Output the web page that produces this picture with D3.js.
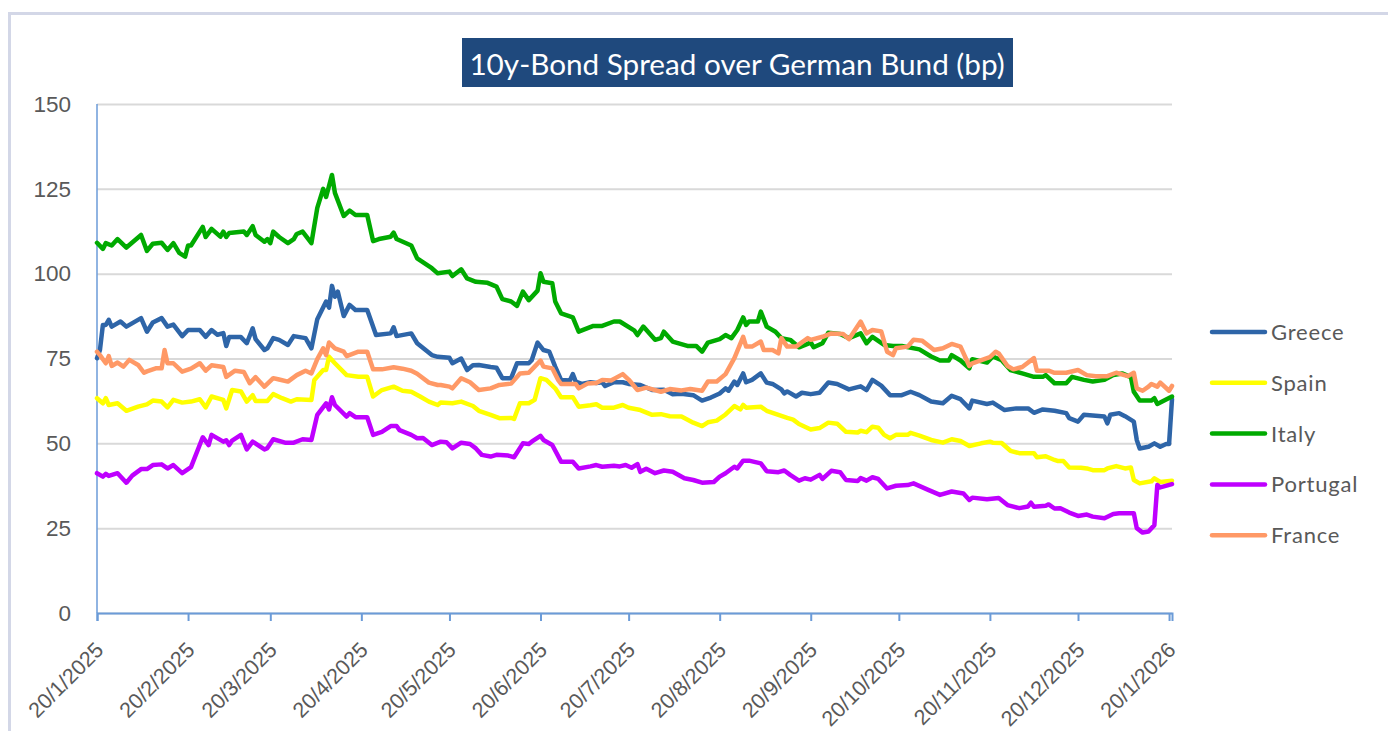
<!DOCTYPE html>
<html>
<head>
<meta charset="utf-8">
<script src="https://cdn.jsdelivr.net/npm/d3@7"></script>
<style>
  body { margin: 0; background: #fff; }
  svg { display: block; font-family: Lato, "Open Sans", sans-serif; }
</style>
</head>
<body>
<svg id="chart" width="1388" height="731"></svg>
<script>
// data: [days since 20/1/2025, spread in bp]
const startDate = new Date(2025, 0, 20);
const endDate = new Date(2026, 0, 21);
const tickLabels = ["20/1/2025", "20/2/2025", "20/3/2025", "20/4/2025", "20/5/2025", "20/6/2025", "20/7/2025",
    "20/8/2025", "20/9/2025", "20/10/2025", "20/11/2025", "20/12/2025", "20/1/2026"];
const yTicks = [0, 25, 50, 75, 100, 125, 150];
const seriesNames = ["Greece", "Spain", "Italy", "Portugal", "France"];
const seriesColors = ["#2e65a8", "#ffff00", "#00aa00", "#bf00ff", "#ff9966"];

const greece = [[0,75.1],[1,77.5],[2,84.9],[3,84.9],[4,86.4],[5,84.4],[8,85.9],[10,84.4],[15,86.9],[17,82.9],[19,85.6],[22,86.9],[24,84.4],[26,85],[29,81.6],[31,83.4],[35,83.4],[37,81.4],[39,83.4],[41,82],[43,82.5],[44,78.7],[45,81.3],[49,81.3],[51,79.5],[53,83.9],[54,80.7],[57,77.5],[58,78],[60,81],[62,80.5],[65,79],[67,81.6],[71,81],[73,78],[75,86.6],[78,91.8],[79,90],[80,96.4],[81,93.2],[82,94.7],[84,87.5],[86,90.8],[88,89.3],[92,89.3],[95,81.9],[100,82.4],[101,84.2],[102,81.6],[107,82.4],[109,79.5],[114,76],[116,75.5],[120,75.2],[121,73.6],[124,75],[126,71.6],[128,73],[130,73.1],[134,72.5],[136,72.3],[138,69.2],[141,69.2],[143,73.6],[147,73.6],[148,74.5],[150,79.7],[152,77.5],[154,77],[156,72.6],[158,68.7],[161,68.5],[162,70.4],[163,68.2],[165,67.5],[168,68],[170,67.8],[172,68],[173,66.9],[176,68],[179,68],[181,67.5],[185,67.2],[189,65.7],[193,65.8],[196,64.5],[199,64.6],[203,64.2],[206,62.6],[209,63.5],[212,64.7],[214,66.2],[215,65.5],[217,68.2],[218,67.2],[220,70.6],[221,68],[223,68.7],[226,70.6],[228,67.9],[230,67.5],[233,65.9],[234,64.7],[235,65.3],[238,63.8],[240,64.9],[243,64.5],[246,64.9],[249,67.9],[252,67.5],[256,65.9],[260,66.8],[262,65.7],[264,68.7],[267,67],[270,64.2],[274,64.2],[277,65.2],[280,64.2],[284,62.3],[288,61.8],[291,64],[294,63],[297,60.3],[298,62.6],[303,61.6],[305,62],[309,59.8],[313,60.3],[317,60.3],[319,59],[322,60],[326,59.6],[330,58.9],[331,57.4],[334,56.4],[336,58.4],[339,58.2],[343,57.9],[344,55.9],[345,58.4],[348,58.9],[350,58],[353,56.4],[354,51],[355,48.5],[358,49],[360,50],[362,49],[364,49.8],[365,49.8],[366,63]];

const spain = [[0,63.3],[2,61.8],[3,63.3],[4,61.3],[7,61.8],[10,59.6],[14,60.8],[17,61.5],[19,62.6],[22,62.3],[24,60.6],[26,62.8],[29,62],[32,62.3],[35,63],[37,60.6],[39,63.8],[43,62.8],[44,60.3],[46,65.7],[49,65.3],[51,62.3],[53,64.2],[54,62.5],[58,62.5],[60,64.5],[63,63.3],[66,62.3],[68,63],[73,62.8],[74,68.7],[77,71.6],[78,71.6],[79,75.5],[81,73.6],[85,70.1],[89,69.6],[92,69.6],[94,63.8],[97,65.7],[101,66.7],[104,65.5],[107,65.2],[110,63.8],[113,62.3],[116,61.3],[117,62],[121,61.8],[124,62.3],[128,61],[130,59.6],[134,58.4],[137,57.4],[141,57.5],[142,57.2],[144,61.8],[147,61.8],[149,62.8],[151,69.2],[153,68.7],[156,66.2],[158,63.6],[162,63.6],[164,60.8],[168,61.2],[170,61.5],[172,60.5],[176,60.5],[179,61.3],[181,60.5],[185,59.8],[189,58.4],[192,58.6],[195,58],[199,57.9],[203,56.1],[206,55.1],[208,56.2],[211,56.7],[214,58.5],[217,61],[219,60],[220,61.3],[221,60.5],[226,60.8],[228,59.6],[232,58.4],[235,57.5],[237,57],[239,55.7],[241,54.9],[243,54.1],[246,54.5],[249,56.1],[252,55.8],[255,53.4],[259,53.2],[260,53.7],[262,53.3],[264,54.9],[266,54.6],[268,52.5],[270,51.5],[272,52.5],[276,52.5],[277,53.1],[280,52.3],[284,51],[288,50.2],[291,51.2],[294,50.7],[297,49.2],[301,50],[304,50.5],[305,50.2],[308,50.1],[311,47.8],[314,47.1],[319,47.1],[320,45.9],[323,46.2],[326,45.1],[327,44.8],[329,44.8],[331,42.9],[335,42.8],[337,42.6],[339,42.1],[343,42.1],[344,42.6],[347,43.3],[350,42.6],[352,42.9],[353,39.2],[355,38.2],[359,38.8],[360,39.7],[362,38.6],[366,39]];

const italy = [[0,109.1],[2,107.3],[3,109],[5,108.3],[7,110.2],[10,107.7],[15,111.4],[17,106.7],[19,108.8],[22,109.1],[24,107],[26,109],[28,106.1],[30,105],[31,108.3],[32,108.3],[36,113.8],[37,110.8],[39,113.2],[42,110.9],[43,112.4],[44,110.8],[45,112],[50,112.4],[51,111.4],[53,114],[54,111.4],[57,109.4],[58,110.2],[59,109],[60,112.4],[62,110.8],[65,109],[67,110.2],[68,111.7],[70,112.4],[73,109],[75,119.4],[77,125],[78,122.6],[80,129.1],[81,123.8],[84,117],[86,118.6],[88,117.3],[92,117.3],[94,109.6],[96,110.2],[100,110.9],[101,112.1],[102,110.2],[107,108.3],[109,104.5],[114,101.6],[116,100.1],[120,100.6],[121,99.3],[124,101.3],[126,98.6],[129,97.6],[133,97.3],[136,96.2],[138,92.5],[141,91.8],[143,90.5],[145,94.7],[147,92.2],[150,95],[151,100.1],[152,97.6],[155,97.2],[156,91.8],[158,88.3],[162,87.1],[164,82.9],[169,84.6],[172,84.6],[176,85.9],[178,85.9],[183,83.2],[184,81.9],[186,84.4],[190,80.5],[192,81],[193,82.9],[196,80],[201,78.7],[204,78.7],[206,77],[208,79.7],[212,80.7],[214,81.9],[216,81],[218,83.4],[220,87.1],[221,84.9],[222,85.9],[225,85.9],[226,88.8],[228,84.4],[231,82.9],[233,81],[236,80.5],[239,78.3],[243,79.7],[244,78.3],[247,79.5],[249,82.6],[253,82.2],[256,81],[260,82.4],[262,79.5],[264,81.4],[268,79],[271,78.7],[274,78.7],[280,77.7],[284,75.6],[287,74.4],[290,74.4],[291,76],[294,74.4],[297,72.1],[298,74.8],[303,73.8],[305,75.6],[308,74.5],[311,71.6],[315,70.6],[319,69.6],[322,69.6],[323,70.1],[326,67.7],[330,67.7],[332,69.6],[336,68.7],[339,68.2],[343,68.7],[346,70.1],[349,70.6],[352,69.5],[353,65.2],[355,62.6],[359,62.6],[360,63.3],[361,61.6],[366,63.8]];

const portugal = [[0,41.2],[2,40.2],[3,41],[4,40.4],[7,41.2],[10,38.4],[12,40.5],[15,42.4],[17,42.4],[19,43.6],[22,43.8],[24,42.6],[26,43.6],[29,41.2],[32,43],[36,51.8],[38,49.5],[39,52.5],[43,50.5],[44,50.9],[45,49.5],[46,50.8],[49,52.5],[51,48.2],[53,50.5],[57,48.2],[58,48.6],[60,51.2],[64,50.2],[67,50.2],[70,51.2],[73,51],[75,58.4],[78,61.8],[79,60],[80,63.6],[81,61.3],[85,57.9],[86,58.9],[88,57.7],[92,57.7],[94,52.5],[97,53.4],[100,55.1],[102,55.1],[103,53.9],[107,52.5],[109,51.5],[111,51.6],[114,49.5],[117,50.5],[119,50.3],[121,48.5],[124,50.2],[127,49.8],[129,48.5],[131,46.6],[134,46.1],[136,46.6],[140,46.4],[142,45.9],[145,50],[147,49.8],[148,50.5],[151,52.2],[152,51],[155,49.5],[158,44.6],[162,44.6],[164,42.6],[168,43.2],[170,43.6],[172,43.1],[176,43.4],[178,43.2],[180,43.6],[182,42.8],[184,43.9],[185,41.6],[187,42.5],[190,41.2],[193,42],[196,41.6],[200,39.7],[203,39.2],[206,38.4],[210,38.6],[212,40.2],[214,41.2],[217,43.1],[218,42.6],[220,44.9],[222,44.9],[226,44.1],[228,41.8],[232,41.5],[234,42],[236,40.7],[239,39],[241,39.7],[243,39.3],[246,40.7],[247,39.5],[250,41.9],[253,41.5],[255,39.2],[259,38.9],[260,39.8],[262,39],[264,40],[266,39.5],[269,36.7],[272,37.5],[276,37.7],[278,38.2],[283,36.3],[287,34.8],[291,35.8],[295,35.2],[297,33.3],[298,34],[303,33.5],[307,33.9],[310,31.8],[314,30.9],[317,31.4],[318,32.5],[319,31.3],[323,31.6],[324,32],[326,30.8],[328,30.9],[331,29.6],[334,28.6],[337,29],[339,28.4],[343,27.9],[346,29.2],[348,29.4],[353,29.4],[354,25],[356,23.7],[358,24],[360,25.9],[361,37.7],[362,37],[366,38]];

const france = [[0,77],[1,76],[3,73.6],[4,75.7],[5,72.8],[7,73.8],[9,72.6],[11,74.6],[14,73.1],[16,70.8],[17,71.2],[20,72.1],[22,72.1],[23,77.5],[24,73.6],[26,73.6],[29,71.1],[32,72],[35,73.6],[37,71.4],[39,73],[43,72.5],[44,69.6],[47,71.4],[50,71],[52,67.7],[54,69.5],[57,66.7],[60,69.2],[62,68.8],[65,68.2],[68,70.1],[71,71.4],[73,70.6],[75,74.8],[77,78],[78,76],[79,79.7],[81,78],[84,77],[85,75.7],[89,77],[92,77],[94,71.8],[97,71.8],[101,72.4],[104,72],[107,71.4],[109,70.5],[113,67.9],[116,67.2],[117,67.2],[120,66.7],[121,66.2],[124,69.2],[127,68],[130,65.7],[134,66.2],[137,67.2],[141,67.6],[144,70.6],[147,70.8],[149,72.6],[151,74.4],[152,72.6],[155,72.1],[157,68.7],[158,67.5],[163,67.5],[164,66.2],[167,67.6],[170,67.8],[172,68.7],[175,68.5],[176,69],[179,70.4],[181,68.8],[184,65.7],[187,66.4],[192,65.2],[195,66],[199,65.6],[202,66],[206,65.5],[208,68.2],[211,68.2],[214,70.4],[217,75.1],[220,81.4],[221,78.5],[223,78.5],[226,80],[227,77.5],[230,77.5],[232,76.5],[233,81],[235,78.5],[238,78.5],[242,81],[243,80.5],[247,81.4],[250,82.4],[254,82.2],[256,80.7],[260,85.9],[262,82.4],[264,83.4],[267,83],[269,77],[271,76],[272,78],[276,78.5],[278,80.5],[281,80.2],[285,77.5],[288,78],[291,79.3],[294,78.5],[297,72.8],[298,73.6],[304,75.4],[306,77],[307,76.5],[310,72.8],[312,71.8],[315,72.5],[319,75.1],[320,71.4],[324,71.4],[326,70.8],[330,70.8],[334,71.6],[337,70.1],[340,69.8],[344,69.8],[347,70.8],[351,69.8],[353,70.8],[354,66.2],[356,65.5],[358,66.7],[359,67.5],[361,66.7],[362,67.9],[365,65.5],[366,66.9]];

const seriesData = [greece, spain, italy, portugal, france];

const svg = d3.select("#chart");
const textColor = "#595959";
const axisBlue = "#6b9bd8";
const plot = { left: 97, right: 1172, top: 104, bottom: 613 };

// outer frame of the chart object
svg.append("path")
    .attr("d", `M9.5,731 V13.5 H1388`)
    .attr("fill", "none")
    .attr("stroke", "#d3d7e7")
    .attr("stroke-width", 3);

const x = d3.scaleTime().domain([startDate, endDate]).range([plot.left, plot.right]);
const y = d3.scaleLinear().domain([0, 150]).range([plot.bottom, plot.top]);

// gridlines + y labels
const yAxis = svg.append("g")
    .attr("transform", `translate(${plot.left},0)`)
    .call(d3.axisLeft(y).tickValues(yTicks).tickSize(-(plot.right - plot.left)).tickPadding(26));
yAxis.select(".domain").remove();
yAxis.selectAll("line").attr("stroke", "#d9d9d9").attr("stroke-width", 2);
yAxis.selectAll("text")
    .attr("fill", textColor)
    .style("font-size", "22.5px");

// vertical axis line
svg.append("line")
    .attr("x1", plot.left).attr("x2", plot.left)
    .attr("y1", plot.top).attr("y2", plot.bottom)
    .attr("stroke", axisBlue).attr("stroke-width", 1.5);

// x axis
const parseTick = d3.timeParse("%d/%m/%Y");
const tickDates = tickLabels.map(parseTick);
const xAxis = svg.append("g")
    .attr("transform", `translate(0,${plot.bottom})`)
    .call(d3.axisBottom(x).tickValues(tickDates).tickFormat((d, i) => tickLabels[i]).tickSize(8));
xAxis.select(".domain").attr("stroke", axisBlue).attr("stroke-width", 2);
xAxis.selectAll("line").attr("stroke", axisBlue).attr("stroke-width", 2);
xAxis.selectAll("text")
    .attr("fill", textColor)
    .style("font-size", "21.5px")
    .attr("text-anchor", "end")
    .attr("x", 0).attr("y", 0).attr("dy", "0.35em")
    .attr("transform", "translate(2,33) rotate(-45)");

// the lines
const line = d3.line()
    .x(d => x(d3.timeDay.offset(startDate, d[0])))
    .y(d => y(d[1]));

seriesData.forEach((data, i) => {
    svg.append("path")
        .datum(data)
        .attr("d", line)
        .attr("fill", "none")
        .attr("stroke", seriesColors[i])
        .attr("stroke-width", 4.5)
        .attr("stroke-linejoin", "round")
        .attr("stroke-linecap", "round");
});

// legend
const legend = svg.append("g");
seriesNames.forEach((name, i) => {
    const ly = 332 + i * 50.8;
    legend.append("line")
        .attr("x1", 1212).attr("x2", 1265)
        .attr("y1", ly).attr("y2", ly)
        .attr("stroke", seriesColors[i])
        .attr("stroke-width", 4.5)
        .attr("stroke-linecap", "round");
    legend.append("text")
        .attr("x", 1271).attr("y", ly)
        .attr("dy", "0.36em")
        .attr("fill", textColor)
        .style("font-size", "22px")
        .style("letter-spacing", "0.8px")
        .text(name);
});

// title box
svg.append("rect")
    .attr("x", 462).attr("y", 38)
    .attr("width", 551).attr("height", 49)
    .attr("fill", "#1f497d");
const title = svg.append("text")
    .attr("x", 737).attr("y", 63)
    .attr("text-anchor", "middle")
    .attr("dominant-baseline", "central")
    .attr("fill", "#fff")
    .style("font-size", "27px")
    .text("10y-Bond Spread over German Bund (bp)");
// fit the title to the width of the box text in the picture
const tw = title.node().getComputedTextLength();
title.style("font-size", (27 * 536 / tw).toFixed(1) + "px");
</script>
</body>
</html>
